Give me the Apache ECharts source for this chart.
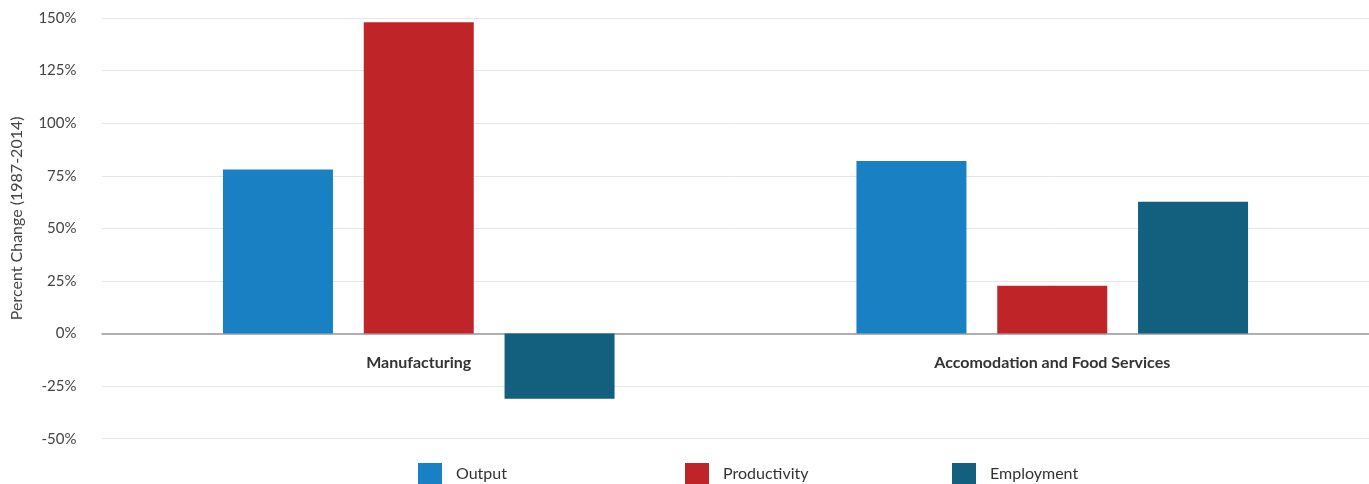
<!DOCTYPE html>
<html><head><meta charset="utf-8">
<script src="https://cdn.jsdelivr.net/npm/echarts@6/dist/echarts.min.js"></script>
<style>html,body{margin:0;padding:0;background:#fff}#c{width:1369px;height:484px}</style>
</head><body><div id="c"></div>
<script>
const categories = ['Manufacturing', 'Accomodation and Food Services'];
const seriesNames = ['Output', 'Productivity', 'Employment'];
const outputVals = [78, 82];
const productivityVals = [148, 22.7];
const employmentVals = [-31, 62.6];
const colors = ['#1a80c4', '#bf2428', '#125f7e'];

const chart = echarts.init(document.getElementById('c'));
const font = 'Lato, "Open Sans", sans-serif';
const legendLefts = [418, 685, 952];
chart.setOption({
  animation: false,
  textStyle: { fontFamily: font },
  grid: { left: 102, right: -8, top: 18, bottom: 45.3 },
  legend: seriesNames.map((n, i) => ({
    left: legendLefts[i], top: 463, padding: 0,
    itemWidth: 24, itemHeight: 22,
    icon: 'rect',
    textStyle: { fontFamily: font, fontSize: 16, color: '#333', padding: [0, 0, 0, 9] },
    data: [n]
  })),
  xAxis: {
    type: 'category', data: categories,
    offset: -105.2,
    axisLine: { onZero: false, lineStyle: { color: '#999', width: 1.5 } },
    axisTick: { show: false },
    axisLabel: { margin: 21, fontSize: 16, fontWeight: 'bold', color: '#333', fontFamily: font }
  },
  yAxis: {
    type: 'value', min: -50, max: 150, interval: 25,
    name: 'Percent Change (1987-2014)', nameLocation: 'middle', nameGap: 77,
    nameTextStyle: { fontSize: 16, color: '#444', fontFamily: font, padding: [0, 0, 0, 20] },
    axisLine: { show: false }, axisTick: { show: false },
    axisLabel: { formatter: '{value}%', margin: 25.5, fontSize: 15, color: '#444', fontFamily: font },
    splitLine: { lineStyle: { color: '#e6e6e6' } }
  },
  series: [
    { name: seriesNames[0], type: 'bar', data: outputVals, barWidth: 110, barGap: '28%', itemStyle: { color: colors[0] } },
    { name: seriesNames[1], type: 'bar', data: productivityVals, barWidth: 110, barGap: '28%', itemStyle: { color: colors[1] } },
    { name: seriesNames[2], type: 'bar', data: employmentVals, barWidth: 110, barGap: '28%', itemStyle: { color: colors[2] } }
  ]
});
</script></body></html>
